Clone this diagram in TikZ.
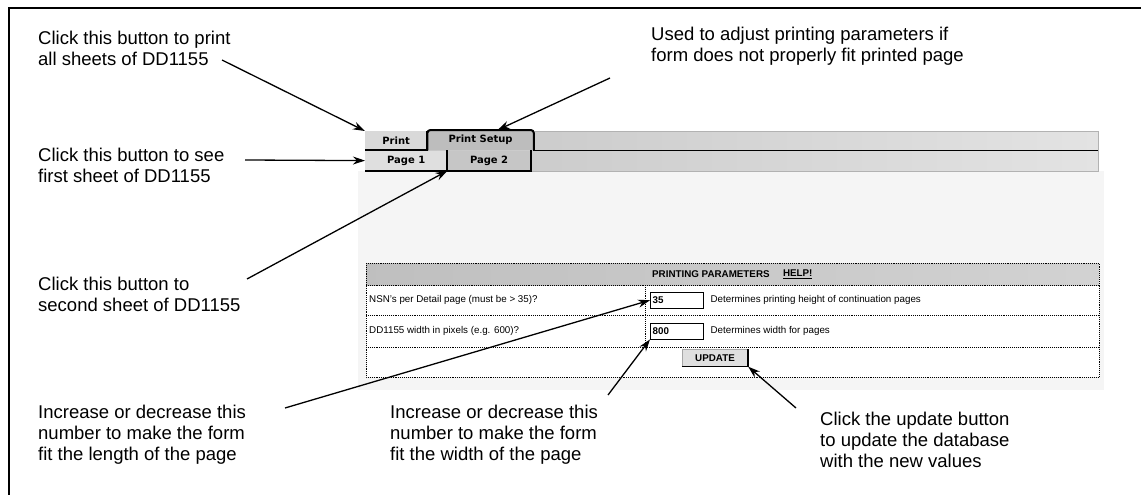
\documentclass[tikz,border=0pt]{standalone}
\usepackage{fontspec}
\setmainfont{Liberation Sans}
\newfontfamily\tabfamily{DejaVu Sans}
\usetikzlibrary{calc}
\usetikzlibrary{positioning}
\usetikzlibrary{arrows.meta}
\newcommand{\notefont}{\fontsize{18.5}{20.7}\selectfont}
\newcommand{\formfont}{\fontsize{9.8}{11}\selectfont}
\newcommand{\tabfont}{\tabfamily\bfseries\fontsize{10}{12}\selectfont}

\begin{document}
\begin{tikzpicture}[x=1pt,y=-1pt,>={Stealth[length=12pt,width=8pt]},
		note/.style={anchor=north west,align=left,inner sep=0pt,font=\notefont},
		tabbox/.style={rectangle,inner sep=0pt,minimum height=19pt,font=\tabfont},
		field/.style={rectangle,draw=black,fill=white,inner sep=2pt,minimum width=53pt,minimum height=16pt,anchor=north west,font=\formfont\bfseries,text width=48pt,align=left},
		formtext/.style={anchor=west,inner sep=0pt,font=\formfont},
		tline/.style={black,densely dotted,line width=0.9pt},
		pointer/.style={->,line width=1.3pt}]
		\useasboundingbox (0,0) rectangle (1141,495);
		
		% page frame
		\draw[line width=1.5pt] (9,495) -- (9,8) -- (1141,8);
		
		% screen background and tab bar
		\fill[gray!8] (358,171) rectangle (1104,390);
		\shade[left color=gray!45,middle color=gray!62,right color=gray!22] (365,131) rectangle (1098,171);
		\draw[gray!60] (365,131) rectangle (1098,171);
		\draw[line width=1pt] (533,150) -- (1098,150);
		
		\node[tabbox,fill=gray!30,minimum width=62pt,anchor=north west] (print) at (365,131) {Print};
		\node[tabbox,fill=gray!52,minimum width=106pt,minimum height=20pt,anchor=south west] (setup) at (print.south east) {Print Setup};
		\node[tabbox,fill=gray!25,minimum width=82pt,minimum height=20pt,anchor=north west] (pageA) at (print.south west) {Page 1};
		\node[tabbox,fill=gray!45,minimum width=83pt,minimum height=20pt,right=0pt of pageA] (pageB) {Page 2};
		
		\draw[line width=2pt] (print.south west) -- (print.south east) -- (print.north east);
		\draw[line width=2pt,rounded corners=3pt] (setup.south west) -- (setup.north west) -- (setup.north east) -- (setup.south east);
		\draw[line width=2pt] (pageA.south west) -- (pageA.south east);
		\draw[line width=2pt] (pageB.north west) -- (pageB.south west) -- (pageB.south east) -- (pageB.north east);
		
		% parameter table
		\fill[white] (366,263) rectangle (1099,377);
		\shade[left color=gray!50,right color=gray!35] (366,263) rectangle (1099,285);
		\draw[tline] (366,263) rectangle (1099,377);
		\draw[tline] (366,285) -- (1099,285);
		\draw[tline] (366,315) -- (1099,315);
		\draw[tline] (366,347) -- (1099,347);
		\draw[tline] (645,285) -- (645,347);
		
		\node[formtext,font=\formfont\bfseries] (params) at (652,274) {PRINTING PARAMETERS};
		\node[formtext,font=\formfont\bfseries,right=13pt of params] (help) {\underline{HELP!}};
		\node[formtext] (nsnlabel) at (369,300) {NSN's per Detail page (must be > 35)?};
		\node[formtext] (widthlabel) at (369,331) {DD1155 width in pixels (e.g. 600)?};
		\node[field] (box35) at (650,292) {35};
		\node[field] (box800) at (650,323) {800};
		\node[formtext,right=7pt of box35] (heightdesc) {Determines printing height of continuation pages};
		\node[formtext,right=7pt of box800] (widthdesc) {Determines width for pages};
		\node[rectangle,fill=gray!25,draw=gray!70,minimum width=66pt,minimum height=17pt,inner sep=0pt,font=\formfont\bfseries] (update) at (715,358) {UPDATE};
		\draw[line width=1.5pt] (update.south west) -- (update.south east) -- (update.north east);
		
		% call-outs
		\node[note] (printnote) at (38,31) {Click this button to print\\all sheets of DD1155};
		\node[note] (setupnote) at (651,27) {Used to adjust printing parameters if\\form does not properly fit printed page};
		\node[note] (pagenoteA) at (38,148) {Click this button to see\\first sheet of DD1155};
		\node[note] (pagenoteB) at (38,277) {Click this button to\\second sheet of DD1155};
		\node[note] (lengthnote) at (38,405) {Increase or decrease this\\number to make the form\\fit the length of the page};
		\node[note] (widthnote) at (390,405) {Increase or decrease this\\number to make the form\\fit the width of the page};
		\node[note] (updatenote) at (820,412) {Click the update button\\to update the database\\with the new values};
		
		\coordinate (printtail) at (222,60);
		\coordinate (setuptail) at (610,78);
		\coordinate (pagetailA) at (245,160);
		\coordinate (pagetailB) at (247,279);
		\coordinate (lengthtail) at (285,408);
		\coordinate (widthtail) at (608,395);
		\coordinate (updatetail) at (796,408);
		
		\path[pointer]
		(printtail) edge (print.north west)
		(setuptail) edge ($(setup.north)+(17,0)$)
		(pagetailA) edge (pageA.west)
		(pagetailB) edge (pageB.south west)
		(lengthtail) edge (box35.west)
		(widthtail) edge (box800.south west)
		(updatetail) edge (update.south east);
\end{tikzpicture}
\end{document}
